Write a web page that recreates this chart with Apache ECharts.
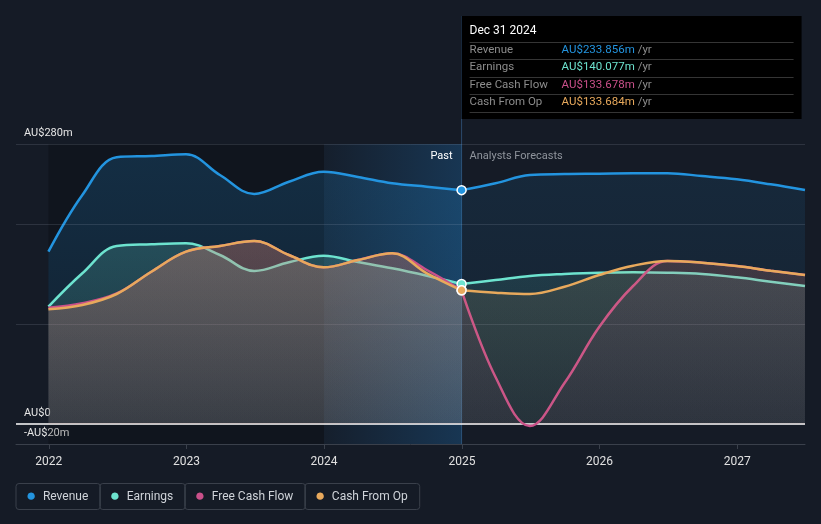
<!DOCTYPE html>
<html><head><meta charset="utf-8">
<script src="https://cdn.jsdelivr.net/npm/echarts@6/dist/echarts.min.js"></script>
<style>html,body{margin:0;padding:0;background:#151b26;}#c{width:821px;height:524px;}</style>
</head><body><div id="c"></div>
<script>
// ---- data ----
const pastDates = ['2021-12-31','2022-03-31','2022-06-30','2022-09-30','2022-12-31','2023-03-31','2023-06-30','2023-09-30','2023-12-31','2024-03-31','2024-06-30','2024-09-30','2024-12-31'];
const forecastDates = ['2024-12-31','2025-03-31','2025-06-30','2025-09-30','2025-12-31','2026-03-31','2026-06-30','2026-09-30','2026-12-31','2027-03-31','2027-06-30'];
const revenuePast = [172.3, 229, 266.7, 268, 269.7, 249, 230, 242.3, 252.3, 247, 240.7, 237.3, 233.856];
const revenueForecast = [233.856, 240.7, 249, 250, 250.3, 250.7, 250.7, 248, 244.7, 239.7, 234];
const earningsPast = [117.3, 150.7, 178, 179.7, 180.7, 169, 153, 161.7, 168.3, 162, 155.7, 148.3, 140.077];
const earningsForecast = [140.077, 144, 148, 150, 151.3, 151.7, 151.3, 150, 146.7, 142.3, 138];
const fcfPast = [116.3, 120.7, 130.5, 152.3, 172.3, 178, 183, 169, 156.7, 164, 170.7, 154, 133.678];
const fcfForecast = [133.678, 47, -2, 41, 97, 138, 163, 161.3, 158, 153.3, 149];
const cfoPast = [114.7, 119, 130, 152.3, 172.3, 178, 183, 169, 156.7, 164, 170.7, 150.7, 133.684];
const cfoForecast = [133.684, 131.3, 130, 137.3, 149, 158.3, 163, 161.3, 158, 153.3, 149];
const seriesNames = ['Revenue', 'Earnings', 'Free Cash Flow', 'Cash From Op'];
const seriesColors = ['#2394df', '#6de3cf', '#c9508a', '#e8a95c'];
const yTickLabels = { '-20': '-AU$20m', '0': 'AU$0', '280': 'AU$280m' };
const gridValues = [100, 200, 280];
const tooltipTitle = 'Dec 31 2024';
const tooltipValues = ['AU$233.856m', 'AU$140.077m', 'AU$133.678m', 'AU$133.684m'];
const pastLabel = 'Past';
const forecastLabel = 'Analysts Forecasts';
const pastBandStart = '2024-01-01';

// ---- helpers ----
function rgba(hex, a) {
  const n = parseInt(hex.slice(1), 16);
  return 'rgba(' + (n >> 16 & 255) + ',' + (n >> 8 & 255) + ',' + (n & 255) + ',' + a + ')';
}
function grad(hex, a0, a1) {
  return new echarts.graphic.LinearGradient(0, 0, 0, 1, [
    { offset: 0, color: rgba(hex, a0) }, { offset: 1, color: rgba(hex, a1) }]);
}
const pastSets = [revenuePast, earningsPast, fcfPast, cfoPast];
const foreSets = [revenueForecast, earningsForecast, fcfForecast, cfoForecast];
const SMOOTH = 0.38;

const series = [];
series.push({
  type: 'line', data: [], z: 1, silent: true,
  markArea: {
    silent: true,
    data: [
      [{ xAxis: pastDates[0], itemStyle: { color: 'rgba(0,0,0,0.2)' } }, { xAxis: pastBandStart }],
      [{ xAxis: pastBandStart, itemStyle: { color: new echarts.graphic.LinearGradient(0, 0, 1, 0, [
        { offset: 0, color: 'rgba(33,150,243,0.03)' }, { offset: 1, color: 'rgba(33,150,243,0.22)' }]) } },
       { xAxis: pastDates[pastDates.length - 1] }]
    ]
  }
});
for (let i = 0; i < 4; i++) {
  const c = seriesColors[i];
  const pd = pastDates.map((d, k) => {
    if (k === pastDates.length - 1) {
      return { value: [d, pastSets[i][k]], symbol: 'circle', symbolSize: 9,
        itemStyle: { color: c, borderColor: '#ffffff', borderWidth: 1.5 } };
    }
    return [d, pastSets[i][k]];
  });
  series.push({
    name: seriesNames[i], type: 'line', data: pd, smooth: SMOOTH, symbol: 'none',
    z: 3 + i, lineStyle: { width: 2.5, color: c }, itemStyle: { color: c },
    areaStyle: { color: grad(c, 0.28, 0.12), origin: 0 }, emphasis: { disabled: true }
  });
  series.push({
    name: seriesNames[i], type: 'line', data: forecastDates.map((d, k) => [d, foreSets[i][k]]),
    smooth: SMOOTH, symbol: 'none',
    z: 3 + i, lineStyle: { width: 2.5, color: c }, itemStyle: { color: c },
    areaStyle: { color: grad(c, 0.16, 0.075), origin: 0 }, emphasis: { disabled: true }
  });
}
series.push({
  type: 'line', data: [], z: 10, silent: true,
  markLine: { silent: true, symbol: ['none', 'none'], label: { show: false },
    data: gridValues.map(v => ({ yAxis: v, lineStyle: { color: 'rgba(190,200,220,0.14)', type: 'solid', width: 1 } }))
      .concat([{ yAxis: 0, lineStyle: { color: '#ffffff', type: 'solid', width: 1.5 } }]) }
});

const rich = {};
seriesNames.forEach((n, i) => { rich['d' + i] = { color: seriesColors[i], fontSize: 17, lineHeight: 14 }; });
rich.t = { color: '#cfd3d9', fontSize: 12, fontFamily: 'Roboto', lineHeight: 14 };

const chart = echarts.init(document.getElementById('c'), null, { renderer: 'canvas' });
chart.setOption({
  backgroundColor: '#151b26',
  animation: false,
  grid: { left: 16, right: 16, top: 144, bottom: 80, containLabel: false },
  xAxis: {
    type: 'time', min: '2021-10-06', max: '2027-06-30',
    minInterval: 365 * 86400000, maxInterval: 366 * 86400000,
    axisLine: { show: true, onZero: false, lineStyle: { color: '#3a404b' } },
    axisTick: { show: true, length: 5, lineStyle: { color: '#3a404b' } },
    axisLabel: { color: '#e0e0e0', fontSize: 12, fontFamily: 'Roboto', formatter: '{yyyy}', margin: 12 },
    splitLine: { show: false }
  },
  yAxis: {
    type: 'value', min: -20, max: 280, interval: 20,
    axisLine: { show: false }, axisTick: { show: false }, splitLine: { show: false },
    axisLabel: { inside: true, margin: 8, color: '#e6e6e6', fontSize: 11, fontFamily: 'Roboto',
      verticalAlign: 'bottom', padding: [0, 0, 5, 0],
      formatter: v => yTickLabels[String(v)] || '' }
  },
  legend: {
    left: 11, top: 483, padding: 0, itemGap: -6, itemWidth: 0, itemHeight: 0, icon: 'circle',
    data: seriesNames, selectedMode: false,
    formatter: name => '{d' + seriesNames.indexOf(name) + '|●}  {t|' + name + '}',
    textStyle: { rich: rich, borderColor: '#3a404b', borderWidth: 1, borderRadius: 3,
      padding: [6, 12, 6, 10], color: '#cfd3d9' }
  },
  series: series
});

const lastDate = pastDates[pastDates.length - 1];
const px = chart.convertToPixel({ gridIndex: 0 }, [+new Date(lastDate), 0])[0];
const boxTop = 16, rowH = 17.5;
const els = [
  { type: 'line', z: 1, shape: { x1: px, y1: boxTop, x2: px, y2: 444 },
    style: { stroke: 'rgba(70,130,190,0.45)', lineWidth: 1 } },
  { type: 'text', z: 20, style: { text: pastLabel, x: px - 9, y: 156, align: 'right', verticalAlign: 'middle',
    fill: '#ffffff', font: '11px Roboto' } },
  { type: 'text', z: 20, style: { text: forecastLabel, x: px + 8, y: 156, align: 'left', verticalAlign: 'middle',
    fill: '#8f949c', font: '11px Roboto' } },
  { type: 'rect', z: 30, shape: { x: px, y: boxTop, width: 340, height: 103 }, style: { fill: '#000000' } },
  { type: 'text', z: 31, style: { text: tooltipTitle, x: px + 8, y: boxTop + 15, verticalAlign: 'middle',
    fill: '#ffffff', font: '12px Roboto' } }
];
for (let r = 0; r <= 4; r++) {
  const ly = Math.round(boxTop + 25.5 + r * rowH) + 0.5;
  els.push({ type: 'line', z: 31, shape: { x1: px + 8, y1: ly, x2: px + 332, y2: ly },
    style: { stroke: '#353535', lineWidth: 1 } });
}
for (let r = 0; r < 4; r++) {
  const cy = boxTop + 34 + r * rowH;
  els.push({ type: 'text', z: 31, style: { text: seriesNames[r], x: px + 8, y: cy, verticalAlign: 'middle',
    fill: '#8c8c8c', font: '11.5px Roboto' } });
  els.push({ type: 'text', z: 31, style: { text: '{v|' + tooltipValues[r] + '} {u|/yr}', x: px + 100, y: cy,
    verticalAlign: 'middle', font: '11.5px Roboto',
    rich: { v: { fill: seriesColors[r], font: '11.5px Roboto' }, u: { fill: '#8c8c8c', font: '11.5px Roboto' } } } });
}
chart.setOption({ graphic: { elements: els } });
</script></body></html>
